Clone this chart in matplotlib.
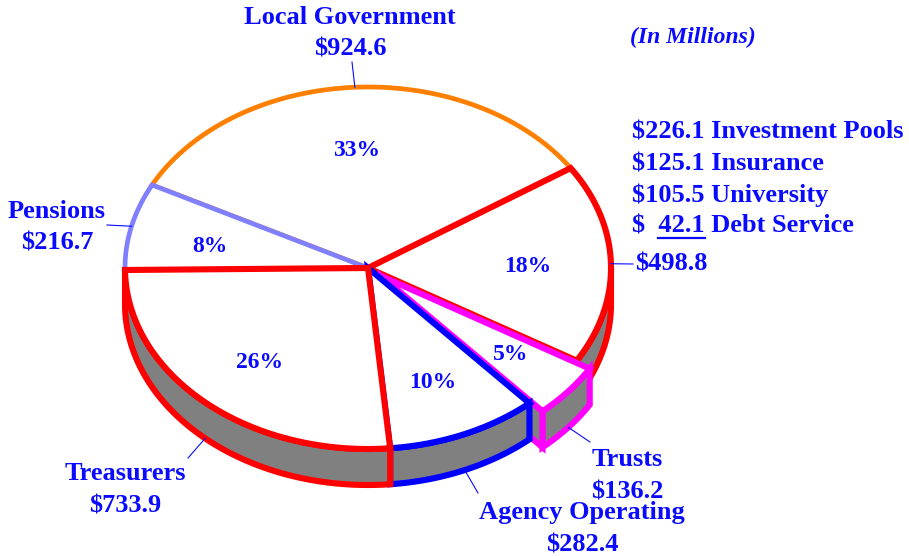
import numpy as np
import matplotlib.pyplot as plt
from matplotlib.patches import Polygon

# slice data, counter-clockwise starting at the Local Government slice
names = ['Local Government', 'Pensions', 'Treasurers', 'Agency Operating', 'Trusts', 'Investment Pools']
amounts = [924.6, 216.7, 733.9, 282.4, 136.2, 498.8]
edge_cols = ['#ff8000', '#8080ff', '#ff0000', '#0000ff', '#ff00ff', '#ff0000']
edge_lw = [3.4, 3.4, 4.4, 4.4, 4.4, 4.4]

# breakdown of the $498.8 slice
pool_names = ['Investment Pools', 'Insurance', 'University', 'Debt Service']
pool_amounts = [226.1, 125.1, 105.5, 42.1]

# layout of the fake 3d pie (pixels)
cx, cy = 368, 268
rx, ry = 243, 181
depth = 36
start = 33.5
explode = {4: (13, 8)}
blue = '#0a0aff'
font = 'Liberation Serif'

total = sum(amounts)
fracs = [a / total for a in amounts]
angles = [start]
for f in fracs:
    angles.append(angles[-1] + 360 * f)


def ell(t, dx=0, dy=0, down=0):
    t = np.radians(t)
    return cx + dx + rx * np.cos(t), cy + dy - ry * np.sin(t) + down


fig = plt.figure(figsize=(9.09, 5.56), dpi=100)
ax = fig.add_axes([0, 0, 1, 1])
ax.set_xlim(0, 909)
ax.set_ylim(556, 0)
ax.axis('off')

order = [0, 1, 5, 4, 3, 2]
for i in order:
    a0, a1 = angles[i], angles[i + 1]
    dx, dy = explode.get(i, (0, 0))
    col = edge_cols[i]
    lw = edge_lw[i]
    # front wall (only the part facing us)
    w0, w1 = max(a0, 180), min(a1, 360)
    if w1 > w0:
        ts = np.linspace(w0, w1, 80)
        top = [ell(t, dx, dy) for t in ts]
        bot = [ell(t, dx, dy, depth) for t in ts[::-1]]
        ax.add_patch(Polygon(top + bot, closed=True, facecolor='#808080', edgecolor=col,
                             lw=lw, joinstyle='miter'))
    if i in explode:
        # side face of the pulled-out slice
        c = (cx + dx, cy + dy)
        p = ell(a0, dx, dy)
        face = [c, p, (p[0], p[1] + depth), (c[0], c[1] + depth)]
        ax.add_patch(Polygon(face, closed=True, facecolor='#808080', edgecolor=col,
                             lw=lw, joinstyle='miter'))
    ts = np.linspace(a0, a1, 120)
    pts = [(cx + dx, cy + dy)] + [ell(t, dx, dy) for t in ts]
    ax.add_patch(Polygon(pts, closed=True, facecolor='white', edgecolor=col,
                         lw=lw, joinstyle='miter'))

# percentage labels
pct_pos = [(357, 150), (210, 246), (260, 362), (433, 383), (511, 355), (528, 267)]
for f, (x, y) in zip(fracs, pct_pos):
    ax.text(x, y, '%d%%' % round(100 * f), color=blue, fontsize=17, fontweight='bold',
            family=font, ha='center', va='center')

tkw = dict(color=blue, fontsize=19, fontweight='bold', family=font, va='center')

# outside labels with leader lines
lab_pos = {0: (350, 17), 1: (57, 211), 2: (125, 474), 3: (582, 513), 4: (627, 460)}
lead_end = {0: (352, 62), 1: (107, 225), 2: (188, 458), 3: (478, 493), 4: (590, 442), 5: (633, 264)}
for i in range(6):
    a_mid = (angles[i] + angles[i + 1]) / 2
    dx, dy = explode.get(i, (0, 0))
    down = depth if np.sin(np.radians(a_mid)) < 0 else 0
    x0, y0 = ell(a_mid, dx, dy, down)
    x1, y1 = lead_end[i]
    ax.plot([x0, x1], [y0, y1], color=blue, lw=0.8)
    if i in lab_pos:
        x, y = lab_pos[i]
        ax.text(x, y, names[i], ha='center', **tkw)
        ax.text(x, y + 32, '\\$%.1f' % amounts[i], ha='center', **tkw)

# the breakdown block
bx, by, step = 632, 132, 31.5
for k, (n, a) in enumerate(zip(pool_names, pool_amounts)):
    if k < 3:
        ax.text(bx, by + k * step, '\\$%.1f %s' % (a, n), ha='left', **tkw)
    else:
        line = '\\$  %.1f %s' % (a, n)
        ax.text(bx, by + k * step, line, ha='left', **tkw)
        # underline the last amount
        r = fig.canvas.get_renderer()
        pre = ax.text(0, 0, '\\$  ', ha='left', **tkw)
        num = ax.text(0, 0, '\\$  %.1f' % a, ha='left', **tkw)
        w_pre = pre.get_window_extent(r).width
        w_num = num.get_window_extent(r).width
        pre.remove()
        num.remove()
        yy = by + k * step + 11
        ax.plot([bx + w_pre, bx + w_num], [yy, yy], color=blue, lw=1.6)
ax.text(bx + 3, by + 4 * step + 6, '\\$%.1f' % amounts[5], ha='left', **tkw)

ax.text(693, 37, '(In Millions)', color=blue, fontsize=17, fontweight='bold', style='italic',
        family=font, ha='center', va='center')

fig.savefig('out.png', dpi=100)
